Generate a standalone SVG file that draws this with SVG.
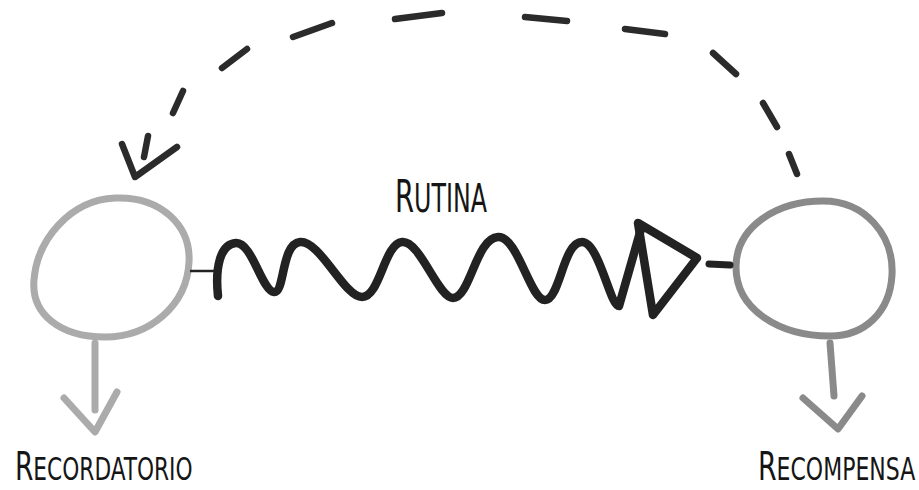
<svg xmlns="http://www.w3.org/2000/svg" width="919" height="490" viewBox="0 0 919 490">
<style>
.lbl{font-family:"DejaVu Sans Condensed","DejaVu Sans",sans-serif;font-stretch:condensed;fill:#151515}
.ink{fill:none;stroke:#222;stroke-linecap:round;stroke-linejoin:round}
.dash{fill:none;stroke:#2b2b2b;stroke-width:6.5;stroke-linecap:round}
.c1{fill:none;stroke:#ababab;stroke-width:7;stroke-linecap:round;stroke-linejoin:round}
.c2{fill:none;stroke:#8a8a8a;stroke-width:7;stroke-linecap:round;stroke-linejoin:round}
</style>
<rect width="919" height="490" fill="#ffffff"/>
<g id="node-recordatorio">
<path class="c1" d="M115,198 C160,196 191,225 189,262 C187,305 150,337 105,337 C60,337 31,314 34,280 C37,240 70,200 115,198 Z"/>
<text class="lbl" transform="translate(15,480) scale(0.754,1)" x="0" y="0"><tspan font-size="39">R</tspan><tspan font-size="32">ECORDATORIO</tspan></text>
</g>
<g id="node-recompensa">
<path class="c2" d="M823,201 C865,201 894,235 892,275 C890,312 865,336 830,336 C780,336 736,310 736,267 C736,228 775,201 823,201 Z"/>
<text class="lbl" transform="translate(758,480) scale(0.764,1)" x="0" y="0"><tspan font-size="39">R</tspan><tspan font-size="32">ECOMPENSA</tspan></text>
</g>
<g id="label-rutina">
<text class="lbl" transform="translate(395,212) scale(0.677,1)" x="0" y="0"><tspan font-size="45">R</tspan><tspan font-size="39">UTINA</tspan></text>
</g>
<g id="connectors">
<line x1="190" y1="271" x2="216" y2="271" stroke="#222" stroke-width="2.5"/>
<path class="ink" stroke-width="8.5" d="M218,296 C215,268 220,244 236,243 C252,242 262,291 274,292 C285,293 281,244 300,242 C320,240 344,297 362,297 C380,297 384,244 402,242 C420,240 438,298 453,298 C470,298 476,238 498,237 C518,236 530,300 545,300 C560,300 563,242 582,242 C599,242 610,306 619,306 L641,229"/>
<path class="ink" stroke-width="8.5" d="M638,223 L697,258 L653,315 Z"/>
<line x1="709" y1="264" x2="730" y2="265" stroke="#222" stroke-width="7" stroke-linecap="round"/>
<line class="c1" x1="95" y1="343" x2="95" y2="410"/>
<polyline class="c1" points="64,398 95,432 117,392"/>
<line class="c2" x1="830" y1="343" x2="834" y2="396"/>
<polyline class="c2" points="803,398 838,429 862,396"/>
<g id="feedback-arc">
<line class="dash" x1="797" y1="174" x2="789" y2="154"/>
<line class="dash" x1="777" y1="127" x2="763" y2="103"/>
<line class="dash" x1="736" y1="74" x2="713" y2="53"/>
<line class="dash" x1="665" y1="34" x2="625" y2="29"/>
<line class="dash" x1="567" y1="21" x2="525" y2="17"/>
<line class="dash" x1="442" y1="13" x2="395" y2="19"/>
<line class="dash" x1="332" y1="23" x2="293" y2="37"/>
<line class="dash" x1="247" y1="49" x2="222" y2="68"/>
<line class="dash" x1="183" y1="91" x2="173" y2="113"/>
<line class="dash" x1="148" y1="136" x2="144" y2="157"/>
<polyline class="dash" points="122,144 135,177 177,147" stroke-linejoin="round"/>
</g>
</g>
</svg>
